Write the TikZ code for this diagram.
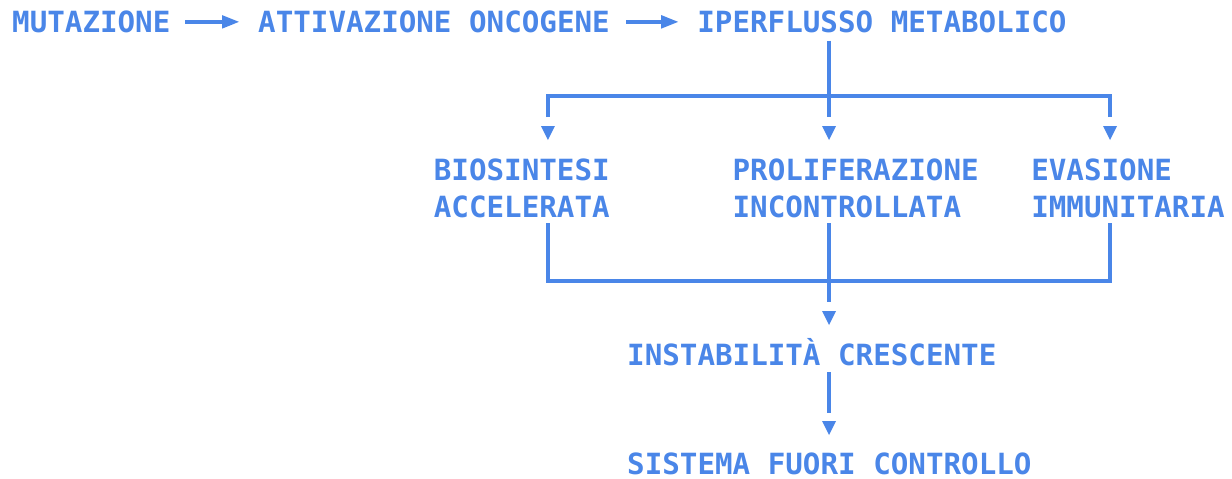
\documentclass[tikz,border=0pt]{standalone}
\usepackage{fontspec}
\usetikzlibrary{arrows.meta}
\newfontfamily\monofam{DejaVu Sans Mono}
\newcommand{\mytxt}{\monofam\bfseries\fontsize{29.2}{37}\selectfont}
\definecolor{lb}{RGB}{74,134,232}
\begin{document}
\begin{tikzpicture}[x=1pt,y=-1pt,
  txt/.style={font=\mytxt, text=lb, inner sep=0pt, anchor=base west, align=left},
  conn/.style={draw=lb, line width=3.8pt},
  hconn/.style={draw=lb, line width=4.4pt},
  harr/.style={draw=lb, line width=4.6pt, -{Triangle[length=18pt,width=12pt]}, shorten >=18pt},
  tipfill/.style={fill=lb}]
\useasboundingbox (0,0) rectangle (1232,479);
% column coordinates
\coordinate (cA) at (547.9,0);
\coordinate (cB) at (829.0,0);
\coordinate (cC) at (1110.1,0);
% texts
\node[txt] (mut) at (12,32.5) {MUTAZIONE};
\node[txt] (att) at (258,32.5) {ATTIVAZIONE ONCOGENE};
\node[txt] (ipe) at (697.2,32.5) {IPERFLUSSO METABOLICO};
\node[txt] (bio) at (433.7,217.5) {BIOSINTESI\\ACCELERATA};
\node[txt] (pro) at (732.4,217.5) {PROLIFERAZIONE\\INCONTROLLATA};
\node[txt] (eva) at (1031.1,217.5) {EVASIONE\\IMMUNITARIA};
\node[txt] (ins) at (627.0,365.0) {INSTABILITÀ CRESCENTE};
\node[txt] (sis) at (627.0,474.0) {SISTEMA FUORI CONTROLLO};
% horizontal arrows
\coordinate (m1) at ([xshift=14.5pt]mut.east);
\draw[harr] (m1) -- (m1 -| att.west);
\coordinate (a1) at ([xshift=16pt]att.east);
\draw[harr] (a1) -- (a1 -| ipe.west);
% top branching
\coordinate (top) at (ipe.south -| cB);
\draw[conn] (top) ++(0,7.5) -- (829,117);
\draw[conn] (547.9,117) -- (547.9,96);
\draw[conn] (1110.1,117) -- (1110.1,96);
\draw[hconn] (546,96) -- (1112,96);
\foreach \x in {547.9,829.0,1110.1}
  \fill[tipfill] (\x-7,126) -- (\x+7,126) -- (\x,140) -- cycle;
% bottom merging
\draw[conn] (547.9,223) -- (547.9,281);
\draw[conn] (1110.1,223) -- (1110.1,281);
\draw[hconn] (546,281) -- (1112,281);
\draw[conn] (829,223) -- (829,302);
\fill[tipfill] (822,311) -- (836,311) -- (829,325) -- cycle;
\draw[conn] (829,372) -- (829,413);
\fill[tipfill] (822,421) -- (836,421) -- (829,435) -- cycle;
\end{tikzpicture}
\end{document}
